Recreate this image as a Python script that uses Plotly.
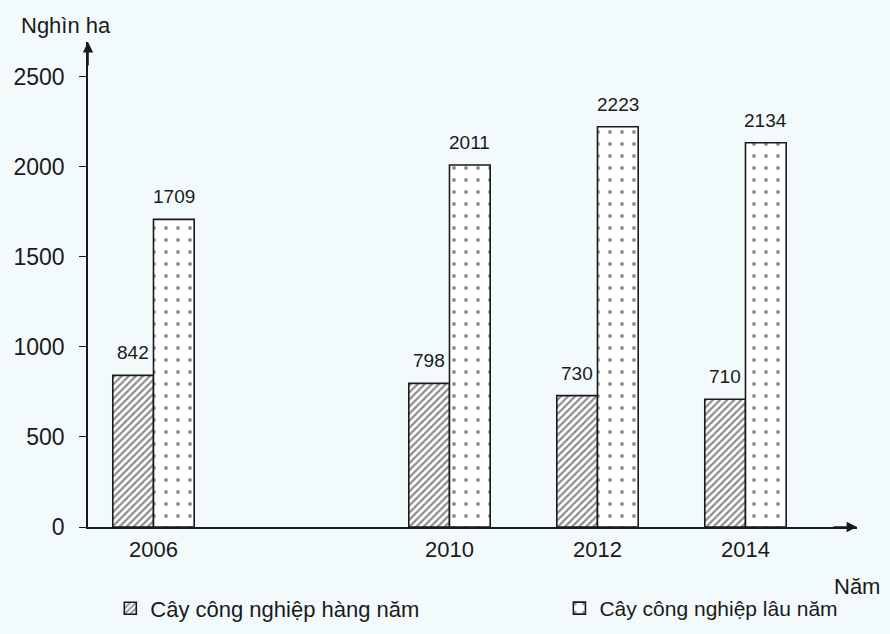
import plotly.graph_objects as go

years = [2006, 2010, 2012, 2014]
hang_nam = [842, 798, 730, 710]
lau_nam = [1709, 2011, 2223, 2134]
y_ticks = [0, 500, 1000, 1500, 2000, 2500]
series_names = ["Cây công nghiệp hàng năm", "Cây công nghiệp lâu năm"]

BG = "#f3fafc"
INK = "#1a1a1a"
FONT = "Liberation Sans, Arial, sans-serif"
BAR_W = 0.55  # bar width in years

fig = go.Figure()
fig.add_trace(go.Bar(
    x=years, y=hang_nam, name=series_names[0], legend="legend", showlegend=True,
    width=BAR_W, offset=-BAR_W,
    marker=dict(color="white", line=dict(color=INK, width=1.6),
                pattern=dict(shape="/", size=5, solidity=0.45, fgcolor=INK, bgcolor="white")),
))
fig.add_trace(go.Bar(
    x=years, y=lau_nam, name=series_names[1], legend="legend2", showlegend=True,
    width=BAR_W, offset=0,
    marker=dict(color="white", line=dict(color=INK, width=1.6),
                pattern=dict(shape=".", size=12, solidity=0.08, fgcolor=INK, bgcolor="white")),
))

annotations = []
for yr, v in zip(years, hang_nam):
    annotations.append(dict(x=yr - BAR_W / 2, y=v, xref="x", yref="y", text=str(v),
                            showarrow=False, yanchor="bottom", yshift=10,
                            font=dict(size=19, color=INK)))
for yr, v in zip(years, lau_nam):
    annotations.append(dict(x=yr + BAR_W / 2, y=v, xref="x", yref="y", text=str(v),
                            showarrow=False, yanchor="bottom", yshift=10,
                            font=dict(size=19, color=INK)))

annotations += [
    dict(xref="paper", yref="paper", x=0, y=1, ax=0, ay=25, showarrow=True,
         arrowhead=2, arrowsize=1.3, arrowwidth=1.6, arrowcolor=INK, text=""),
    dict(xref="paper", yref="paper", x=1, y=0, ax=-25, ay=0, showarrow=True,
         arrowhead=2, arrowsize=1.3, arrowwidth=1.6, arrowcolor=INK, text=""),
    dict(xref="paper", yref="paper", x=-0.09, y=1.035, xanchor="left", yanchor="middle",
         text="Nghìn ha", showarrow=False, font=dict(size=22, color=INK)),
    dict(xref="paper", yref="paper", x=0.968, y=-0.122, xanchor="left", yanchor="middle",
         text="Năm", showarrow=False, font=dict(size=22, color=INK)),
]

fig.update_layout(
    width=890, height=634,
    margin=dict(l=88, r=33, t=42, b=107, autoexpand=False),
    paper_bgcolor=BG, plot_bgcolor=BG,
    font=dict(family=FONT, size=21, color=INK),
    barmode="overlay", showlegend=True,
    xaxis=dict(range=[2005.115, 2015.507], tickvals=years, ticktext=[str(y) for y in years],
               showline=True, linecolor=INK, linewidth=1.6, showgrid=False, zeroline=False,
               ticks="", tickfont=dict(size=22, color=INK), ticklabelstandoff=2,
               automargin=False),
    yaxis=dict(range=[0, 2694], tickvals=y_ticks, showline=True, linecolor=INK, linewidth=1.6,
               showgrid=False, zeroline=False, ticks="outside", ticklen=7, tickcolor=INK,
               tickfont=dict(size=23, color=INK), ticklabelstandoff=10, automargin=False),
    legend=dict(orientation="h", x=0.029, y=-0.168, xanchor="left", yanchor="middle",
                bgcolor="rgba(0,0,0,0)", font=dict(size=22, color=INK)),
    legend2=dict(orientation="h", x=0.613, y=-0.168, xanchor="left", yanchor="middle",
                 bgcolor="rgba(0,0,0,0)", font=dict(size=21, color=INK)),
    annotations=annotations,
)

fig.write_html("out.html", config={"displayModeBar": False},
               post_script="document.body.style.margin='0';")
